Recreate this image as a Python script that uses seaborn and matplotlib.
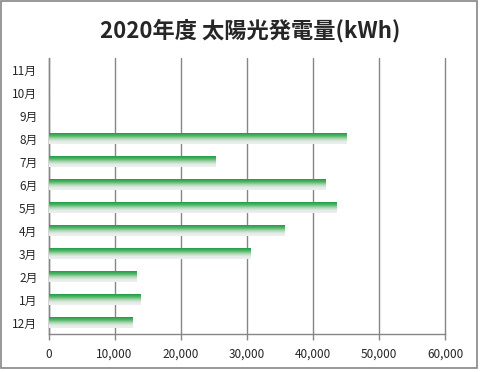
import numpy as np
import pandas as pd
import seaborn as sns
import matplotlib
matplotlib.use('Agg')
from matplotlib import pyplot as plt
from matplotlib.colors import LinearSegmentedColormap
from matplotlib.patches import Rectangle

# data (top to bottom as drawn)
months = ['11月', '10月', '9月', '8月', '7月', '6月', '5月', '4月', '3月', '2月', '1月', '12月']
kwh = [0, 0, 0, 45000, 25150, 41800, 43450, 35600, 30450, 13200, 13800, 12600]
title = '2020年度 太陽光発電量(kWh)'
xticks = [0, 10000, 20000, 30000, 40000, 50000, 60000]

df = pd.DataFrame({'month': months, 'kwh': kwh})

sns.set_style('white')
plt.rcParams['font.family'] = ['Noto Sans CJK JP', 'DejaVu Sans']

fig = plt.figure(figsize=(5, 3.72), dpi=100)
ax = fig.add_axes([0.097, 0.102, 0.793, 0.742])

sns.barplot(data=df, x='kwh', y='month', order=months, orient='h',
            width=0.45, color='#3aa95a', ax=ax)

# gradient fill for each bar
grad_cmap = LinearSegmentedColormap.from_list('g', ['#1e9e48', '#4fb565', '#a9d6ae', '#e4ebe6', '#eef0f2'])
grad = np.linspace(0, 1, 64).reshape(-1, 1)
for p in ax.patches:
    w = p.get_width()
    if w <= 0:
        continue
    x0, y0, h = p.get_x(), p.get_y(), p.get_height()
    p.set_facecolor('none')
    p.set_edgecolor('none')
    im = ax.imshow(grad, cmap=grad_cmap, aspect='auto', origin='upper',
                   extent=(x0, x0 + w, y0 + h, y0), zorder=3)
    im.set_clip_path(p)

ax.set_xlim(0, 60000)
ax.set_ylim(len(months) - 0.5, -0.5)
ax.set_xticks(xticks)
ax.set_xticklabels([f'{v:,}' for v in xticks], fontsize=8.5)
ax.set_xlabel('')
ax.set_ylabel('')

# y tick marks at category boundaries, labels in the middle
ax.set_yticks(range(len(months)))
ax.set_yticklabels(months, fontsize=8.5)
ax.set_yticks(np.arange(-0.5, len(months)), minor=True)
ax.tick_params(axis='y', which='major', length=0, pad=8)
ax.tick_params(axis='y', which='minor', length=4, color='#868686', direction='out', width=1)
ax.tick_params(axis='x', length=4, color='#868686', direction='out', width=1, pad=6, bottom=True)

ax.xaxis.grid(True, color='#868686', lw=1)
for gl in ax.get_xgridlines():
    gl.set_clip_on(False)
ax.set_axisbelow(True)
for s in ['top', 'right']:
    ax.spines[s].set_visible(False)
for s in ['left', 'bottom']:
    ax.spines[s].set_color('#868686')
    ax.spines[s].set_linewidth(1)

fig.text(0.5, 0.918, title, ha='center', va='center', fontsize=16, fontweight='bold')

# chart border
fig.patches.append(Rectangle((0.002, 0.01), 0.951, 0.986, transform=fig.transFigure,
                             fill=False, edgecolor='#868686', lw=1.2))

fig.savefig('out.png', dpi=100)
